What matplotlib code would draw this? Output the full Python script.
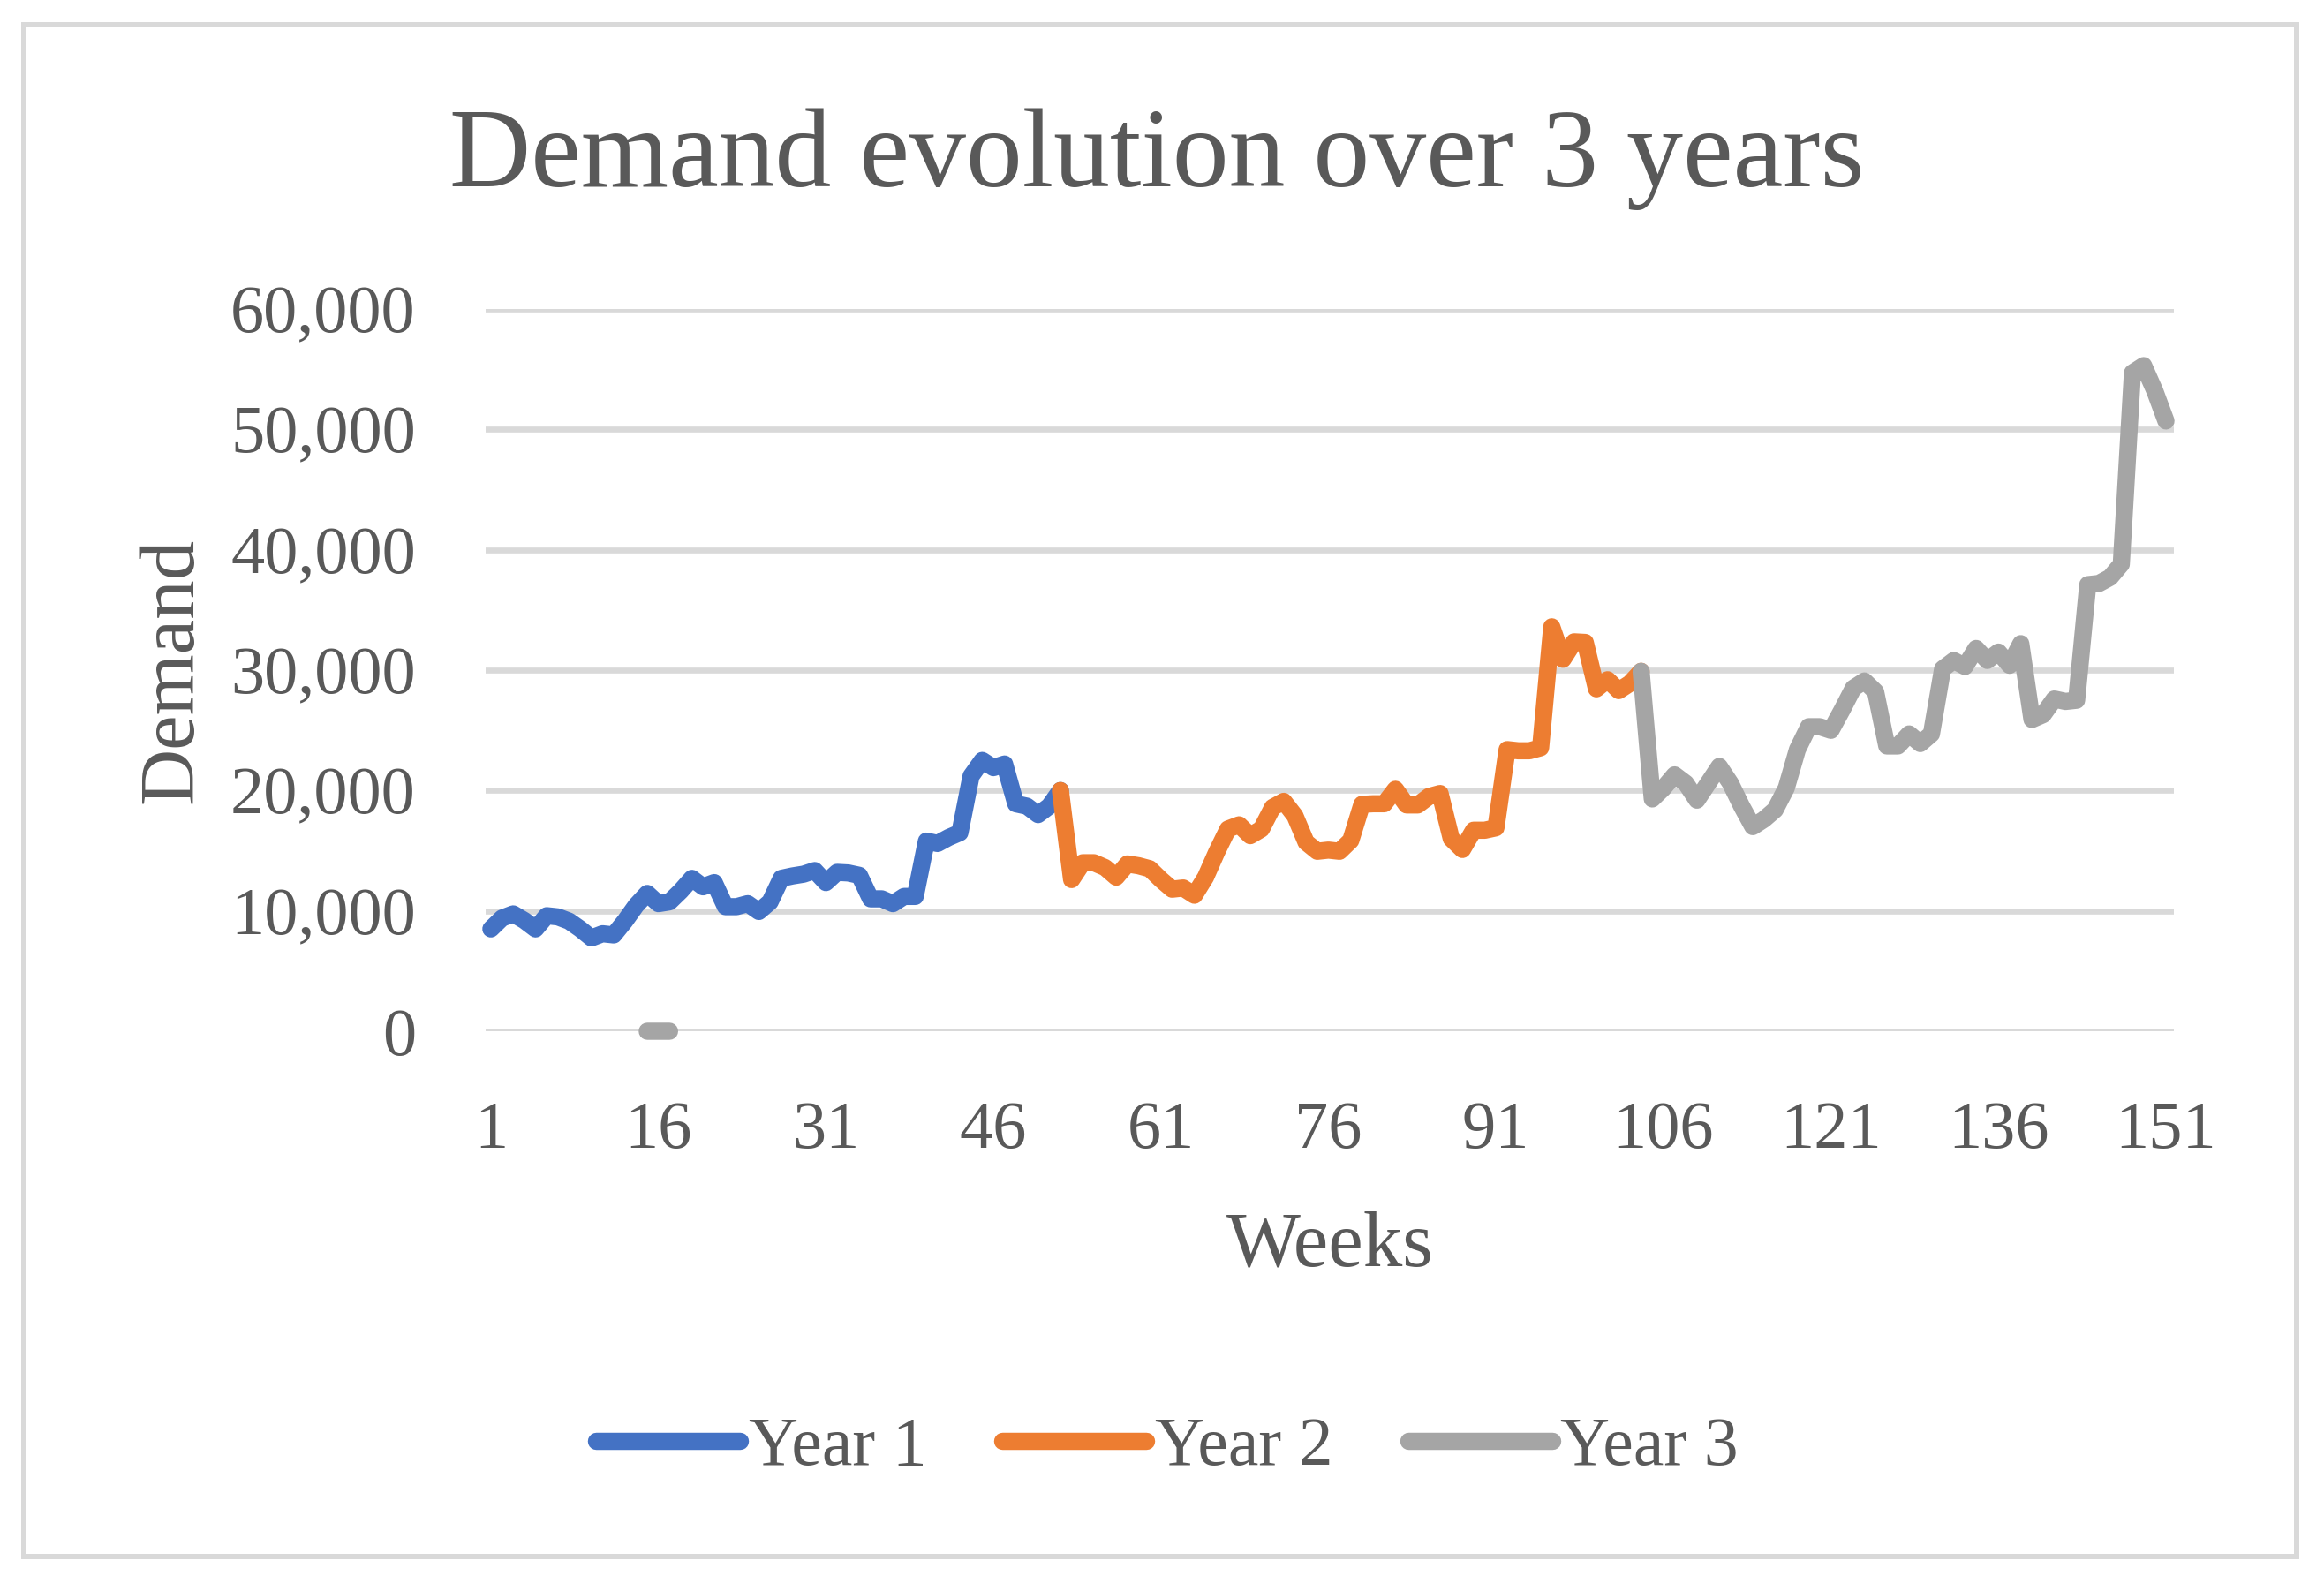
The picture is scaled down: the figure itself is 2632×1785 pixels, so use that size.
import numpy as np
import matplotlib
matplotlib.use("Agg")
import matplotlib.pyplot as plt
from matplotlib.patches import Rectangle

# weekly demand
year1_weeks = list(range(1, 53))
year1 = [8500, 9400, 9750, 9200, 8500, 9600, 9500, 9150, 8500, 7750,
         8100, 8000, 9150, 10450, 11450, 10600, 10750, 11650, 12700, 12000,
         12350, 10350, 10350, 10600, 9950, 10750, 12700, 12900, 13050, 13350,
         12350, 13200, 13150, 12950, 11000, 11000, 10600, 11200, 11200, 15800,
         15600, 16100, 16500, 21200, 22500, 21900, 22200, 18900, 18700, 18000,
         18700, 20000]

year2_weeks = list(range(52, 105))
year2 = [20000, 12600, 14000, 14000, 13600, 12800, 13900, 13750, 13500, 12600,
         11800, 11900, 11300, 12800, 14900, 16800, 17150, 16250, 16800, 18600,
         19100, 17900, 15700, 14950, 15050, 14950, 15850, 18850, 18900, 18900,
         20100, 18800, 18800, 19500, 19750, 16000, 15100, 16700, 16700, 16900,
         23400, 23300, 23300, 23550, 33600, 30900, 32350, 32300, 28450, 29200,
         28300, 28900, 29900]

year3_weeks = list(range(104, 152))
year3 = [29900, 19300, 20200, 21300, 20600, 19200, 20600, 22000, 20600, 18700,
         17000, 17600, 18400, 20200, 23400, 25300, 25300, 25000, 26700, 28500,
         29100, 28200, 23700, 23700, 24700, 23900, 24700, 30100, 30800, 30300,
         31800, 30800, 31500, 30400, 32200, 25900, 26300, 27600, 27400, 27500,
         37100, 37200, 37700, 38800, 54700, 55300, 53200, 50700]
# stray zero cells of the Year 3 column
year3_stub_weeks = [15, 16, 17]
year3_stub = [0, 0, 0]

series_names = ["Year 1", "Year 2", "Year 3"]
colors = ["#4472C4", "#ED7D31", "#A5A5A5"]
x_ticks = list(range(1, 152, 15))
y_ticks = list(range(0, 60001, 10000))

plt.rcParams['font.family'] = ['Liberation Serif', 'DejaVu Serif']
txt = "#595959"

W, H = 2632, 1785
fig = plt.figure(figsize=(W / 100, H / 100), dpi=100)
fig.patch.set_facecolor("white")

ax = fig.add_axes([550 / W, 1 - 1168 / H, (2462 - 550) / W, (1168 - 350) / H])

w3 = np.concatenate([year3_stub_weeks, [np.nan], year3_weeks])
v3 = np.concatenate([year3_stub, [np.nan], year3])

lines = []
for xs, ys, c, name in [(year1_weeks, year1, colors[0], series_names[0]),
                        (year2_weeks, year2, colors[1], series_names[1]),
                        (w3, v3, colors[2], series_names[2])]:
    ln, = ax.plot(xs, ys, color=c, lw=14, solid_joinstyle="round",
                  solid_capstyle="round", clip_on=False, label=name, zorder=3)
    lines.append(ln)

ax.set_xlim(0.53, 151.71)
ax.set_ylim(0, 60000)
ax.set_xticks(x_ticks)
ax.set_xticklabels([str(t) for t in x_ticks])
ax.set_yticks(y_ticks)
ax.set_yticklabels([f"{t:,}" for t in y_ticks])
ax.tick_params(length=0, labelsize=55, labelcolor=txt)
ax.tick_params(axis="x", pad=57)
ax.tick_params(axis="y", pad=57)

ax.yaxis.grid(True, color="#D9D9D9", lw=4.8)
ax.set_axisbelow(True)
for s in ax.spines.values():
    s.set_visible(False)

ax.set_xlabel("Weeks", fontsize=64, color=txt)
ax.xaxis.set_label_coords(0.5, (1168 - 1433) / 818)
ax.xaxis.label.set_va("baseline")

ax.set_ylabel("Demand", fontsize=64, color=txt)
ax.yaxis.set_label_coords((217 - 550) / 1912, 0.5)
ax.yaxis.label.set_va("baseline")

fig.text(1310 / W, 1 - 211 / H, "Demand evolution over 3 years",
         ha="center", va="baseline", fontsize=92, color=txt)

leg = fig.legend(handles=lines, loc="center", ncol=3, frameon=False,
                 bbox_to_anchor=(1322 / W, 1 - 1640 / H), fontsize=56,
                 handlelength=2.1, handletextpad=0.12, columnspacing=1.1)
for t in leg.get_texts():
    t.set_color(txt)

# chart border
fig.patches.append(Rectangle((27 / W, 1 - 1763 / H), (2601 - 27) / W, (1763 - 28) / H,
                             transform=fig.transFigure, fill=False,
                             edgecolor="#D9D9D9", lw=4.3))

fig.savefig("out.png", dpi=100)
